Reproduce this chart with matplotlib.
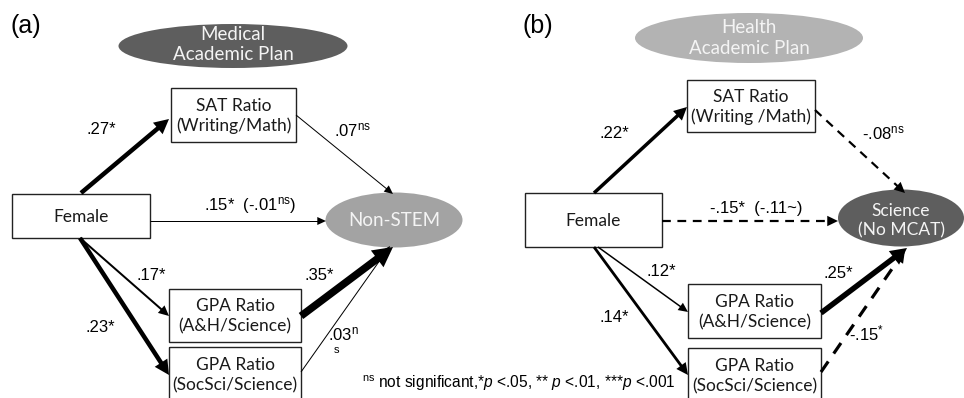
import numpy as np
import matplotlib.pyplot as plt
from matplotlib.patches import Ellipse, Rectangle, Polygon

plt.rcParams['mathtext.fontset'] = 'custom'
plt.rcParams['mathtext.rm'] = 'Liberation Sans'
plt.rcParams['mathtext.it'] = 'Liberation Sans:italic'

BOX_FONT = 'Lato'
NUM_FONT = 'Liberation Sans'

# Panel titles and node labels
panel_tags = ['(a)', '(b)']
plan_labels = ['Medical\nAcademic Plan', 'Health\nAcademic Plan']
outcome_labels = ['Non-STEM', 'Science\n(No MCAT)']
predictor_label = 'Female'
sat_labels = ['SAT Ratio\n(Writing/Math)', 'SAT Ratio\n(Writing /Math)']
gpa_ah_label = 'GPA Ratio\n(A&H/Science)'
gpa_ss_label = 'GPA Ratio\n(SocSci/Science)'

# Path coefficients, in order:
# Female->SAT, SAT->outcome, Female->outcome, Female->GPA A&H,
# Female->GPA SocSci, GPA A&H->outcome, GPA SocSci->outcome
coef_a = ['.27*', r'.07$^{\mathrm{ns}}$', r'.15*  (-.01$^{\mathrm{ns}}$)', '.17*',
          '.23*', '.35*', r'.03$^{\mathrm{n}}$']
coef_b = ['.22*', r'-.08$^{\mathrm{ns}}$', '-.15*  (-.11~)', '.12*',
          '.14*', '.25*', r'-.15$^{*}$']
# significant (solid) or not (dashed) for panel (b)
solid_b = [True, False, False, True, True, True, False]
footnote = r'$^{\mathrm{ns}}$ not significant,*$p$ <.05, ** $p$ <.01, ***$p$ <.001'

fig = plt.figure(figsize=(9.64, 3.98), dpi=100)
ax = fig.add_axes([0, 0, 1, 1])
ax.set_xlim(0, 964)
ax.set_ylim(398, 0)
ax.axis('off')


def box(x0, y0, x1, y1, label):
    ax.add_patch(Rectangle((x0, y0), x1 - x0, y1 - y0, fill=False,
                           ec='#222222', lw=1.0))
    ax.text((x0 + x1) / 2, (y0 + y1) / 2 + 1, label, ha='center', va='center',
            fontsize=12.5, family=BOX_FONT, color='#1a1a1a', linespacing=1.3)


def oval(cx, cy, w, h, color, label, fs=13.5, dy=0):
    ax.add_patch(Ellipse((cx, cy), w, h, fc=color, ec='none'))
    ax.text(cx, cy + dy, label, ha='center', va='center', fontsize=fs,
            family=BOX_FONT, color='#f4f4f4', linespacing=1.25)


def arrow(p0, p1, width, dashed=False):
    p0 = np.array(p0, float)
    p1 = np.array(p1, float)
    d = p1 - p0
    u = d / np.hypot(*d)
    n = np.array([-u[1], u[0]])
    hl = 7 + 1.7 * width
    hw = 3 + 1.0 * width
    base = p1 - u * hl
    ax.plot([p0[0], base[0] + u[0]], [p0[1], base[1] + u[1]], color='black',
            lw=width * 0.72, ls=(0, (4, 3)) if dashed else '-',
            solid_capstyle='butt', dash_capstyle='butt')
    ax.add_patch(Polygon([p1, base + n * hw, base - n * hw], closed=True,
                         fc='black', ec='none'))


def label(x, y, s, fs=12):
    ax.text(x, y, s, ha='center', va='center', fontsize=fs, family=NUM_FONT)


# ---- panel (a) ----
ax.text(10, 26, panel_tags[0], fontsize=18, family=NUM_FONT, va='center')
oval(233, 46, 229, 44, '#5e5e5e', plan_labels[0], dy=-1.5)
box(171, 88, 296, 142, sat_labels[0])
box(12, 194, 150, 238, predictor_label)
box(169, 289, 301, 342, gpa_ah_label)
box(169, 347, 301, 402, gpa_ss_label)
oval(394, 220, 137, 55, '#a3a3a3', outcome_labels[0], dy=1)

arrow((81, 193), (169, 119), 4.5)
arrow((296, 115), (393, 194), 1.0)
arrow((150, 221), (326, 221), 1.0)
arrow((80, 238), (169, 316), 2.0)
arrow((80, 238), (169, 375), 4.5)
arrow((301, 372), (390, 246), 1.0)
arrow((301, 316), (393, 247), 7.5)

label(101, 130, coef_a[0])
label(353, 130, coef_a[1])
label(250, 205, coef_a[2])
label(151, 275, coef_a[3])
label(100, 327, coef_a[4])
label(319, 275, coef_a[5])
label(343, 334, coef_a[6])
ax.text(334, 350, 's', ha='left', va='center', fontsize=8, family=NUM_FONT)

ax.text(362, 383, footnote, ha='left', va='center', fontsize=11.2,
        family=NUM_FONT)

# ---- panel (b) ----
ax.text(522, 26, panel_tags[1], fontsize=18, family=NUM_FONT, va='center')
oval(749, 38, 228, 50, '#b3b3b3', plan_labels[1])
box(687, 80, 815, 132, sat_labels[1])
box(525, 193, 662, 247, predictor_label)
box(688, 284, 821, 338, gpa_ah_label)
box(688, 348, 821, 402, gpa_ss_label)
oval(901, 218, 126, 57, '#5e5e5e', outcome_labels[1], fs=12.5, dy=3)

b_paths = [((594, 193), (687, 107), 3.5),
           ((815, 110), (905, 193), 2.2),
           ((662, 221), (838, 221), 2.2),
           ((598, 247), (688, 312), 1.5),
           ((594, 247), (688, 375), 2.8),
           ((821, 313), (907, 248), 5.5),
           ((821, 372), (905, 250), 3.2)]
for (p0, p1, w), solid in zip(b_paths, solid_b):
    arrow(p0, p1, w, dashed=not solid)

label(614, 133, coef_b[0])
label(883, 133, coef_b[1])
label(756, 209, coef_b[2])
label(661, 272, coef_b[3])
label(614, 317, coef_b[4])
label(838, 273, coef_b[5])
label(867, 333, coef_b[6])

fig.savefig('out.png', dpi=100)
